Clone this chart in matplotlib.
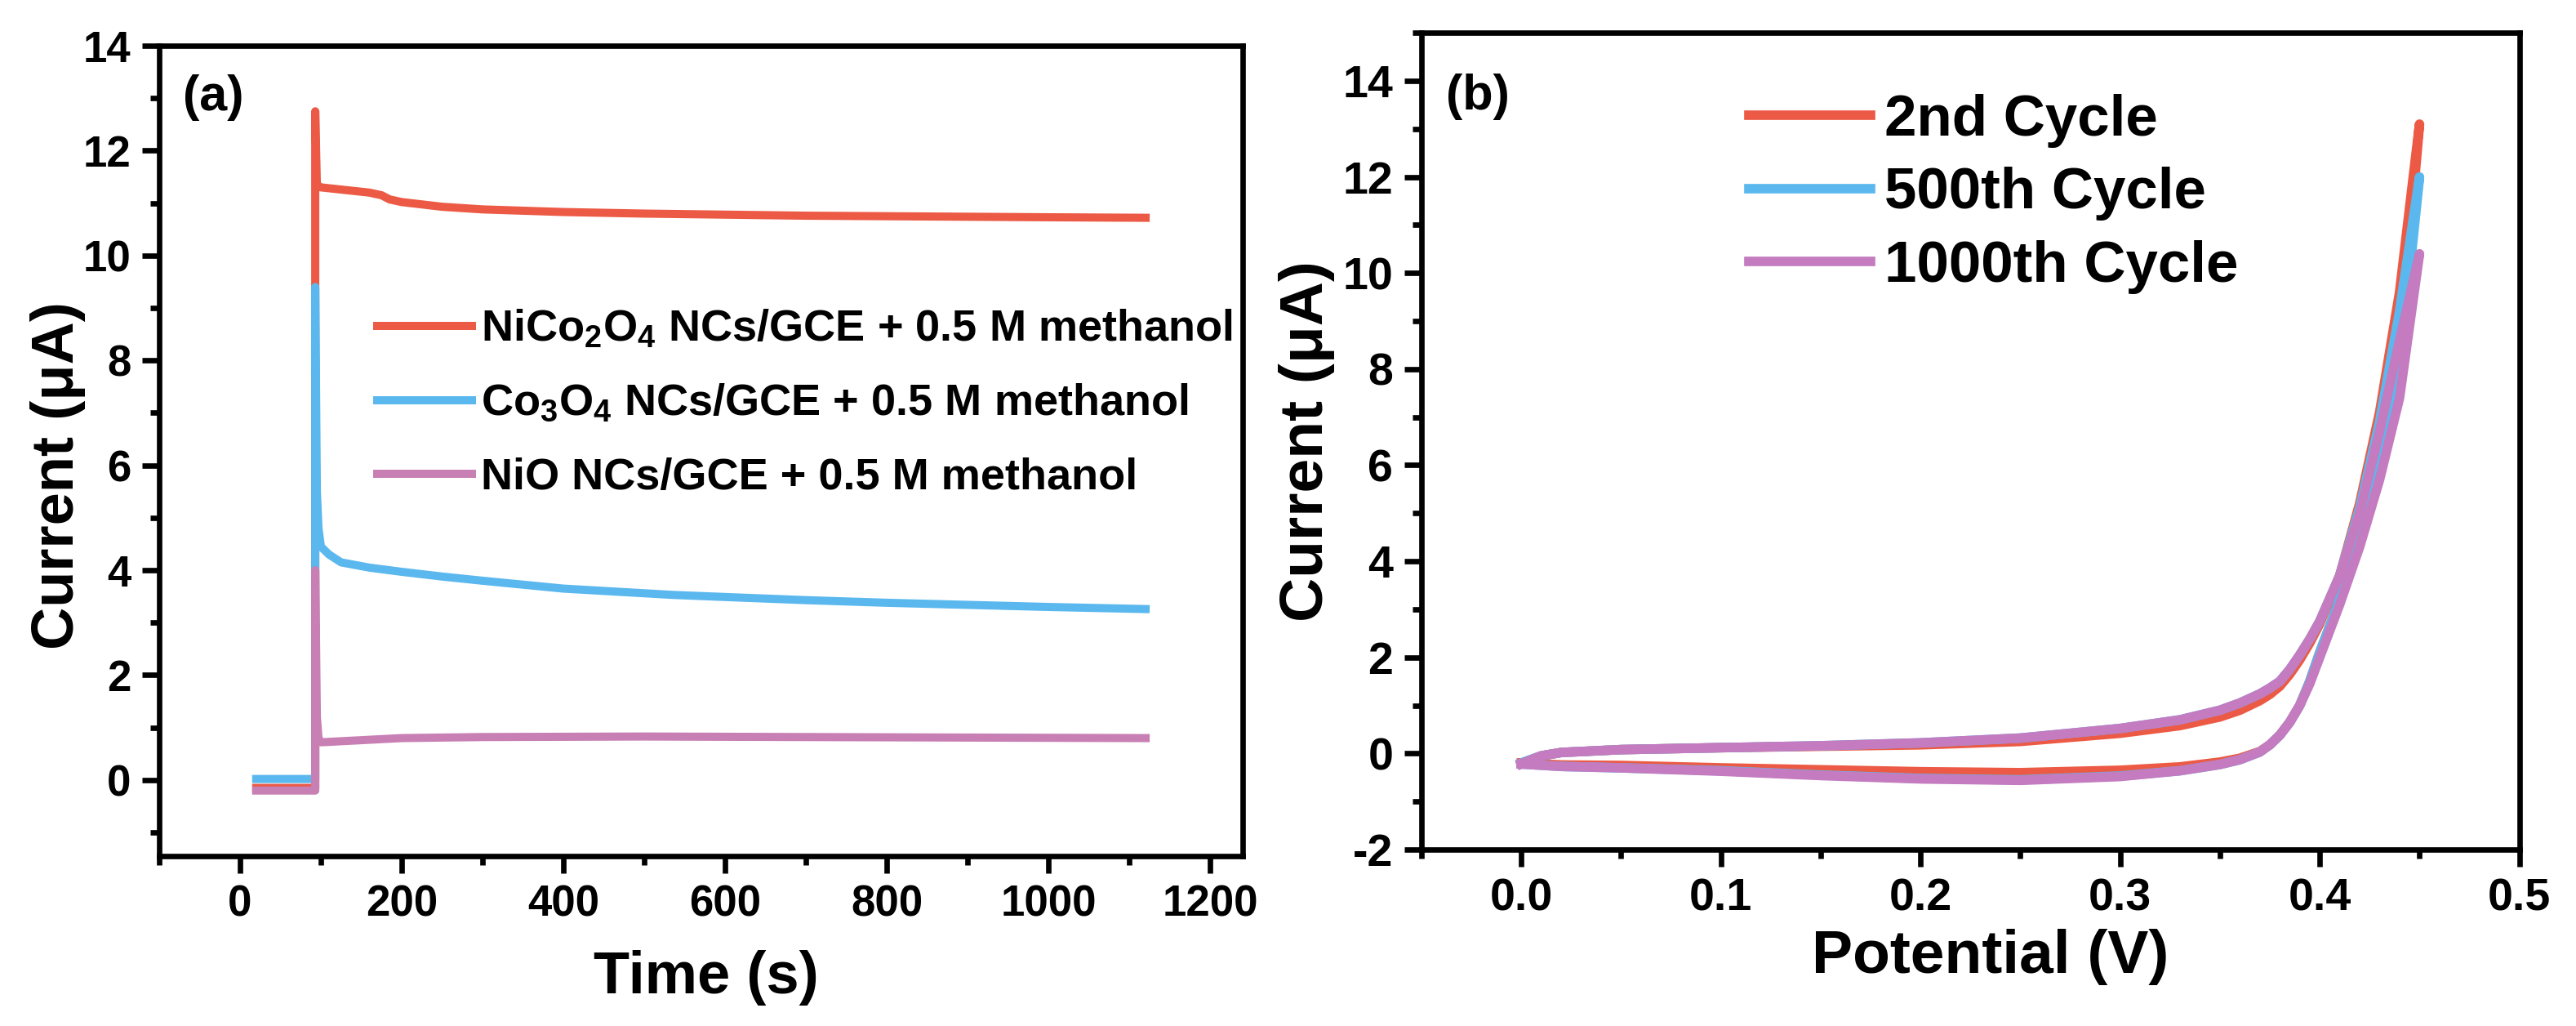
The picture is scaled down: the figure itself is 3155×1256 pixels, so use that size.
import matplotlib
matplotlib.use("Agg")
import matplotlib.pyplot as plt
from matplotlib.ticker import MultipleLocator

plt.rcParams["font.family"] = ["Liberation Sans", "DejaVu Sans"]
plt.rcParams["mathtext.fontset"] = "custom"
plt.rcParams["mathtext.rm"] = "Liberation Sans"
plt.rcParams["mathtext.bf"] = "Liberation Sans:bold"
plt.rcParams["axes.unicode_minus"] = False

RED = "#EC5A45"
BLUE = "#5BB8EE"
PINK = "#C880B4"
PURPLE = "#C47BC0"

# ---- panel (a): chronoamperometry ----
t_nico = [20, 93, 93, 95, 100, 130, 160, 175, 185, 200, 250, 300, 400, 500,
          600, 700, 800, 900, 1000, 1120]
i_nico = [-0.15, -0.15, 12.75, 11.35, 11.3, 11.25, 11.2, 11.15, 11.07, 11.02,
          10.93, 10.88, 10.83, 10.8, 10.78, 10.76, 10.75, 10.74, 10.73, 10.72]

t_co = [20, 93, 93, 95, 97, 100, 110, 125, 160, 200, 250, 300, 400, 535,
        600, 700, 800, 900, 1000, 1120]
i_co = [0.02, 0.02, 9.4, 5.5, 4.8, 4.45, 4.3, 4.15, 4.05, 3.97, 3.88, 3.8,
        3.65, 3.53, 3.49, 3.43, 3.38, 3.34, 3.3, 3.26]

t_nio = [20, 93, 93, 95, 97, 100, 150, 200, 300, 500, 700, 900, 1120]
i_nio = [-0.2, -0.2, 4.0, 1.2, 0.8, 0.72, 0.76, 0.8, 0.82, 0.83, 0.82, 0.81, 0.8]

labels_a = [r"NiCo$_\mathbf{2}$O$_\mathbf{4}$ NCs/GCE + 0.5 M methanol",
            r"Co$_\mathbf{3}$O$_\mathbf{4}$ NCs/GCE + 0.5 M methanol",
            "NiO NCs/GCE + 0.5 M methanol"]

# ---- panel (b): cyclic voltammetry, 1000 cycles ----
v_fwd = [0.0, 0.01, 0.02, 0.05, 0.10, 0.15, 0.20, 0.25, 0.30, 0.33, 0.35,
         0.36, 0.37, 0.375, 0.38, 0.385, 0.39, 0.395, 0.40, 0.41, 0.42, 0.43,
         0.44, 0.45]
v_rev = [0.44, 0.43, 0.42, 0.41, 0.40, 0.395, 0.39, 0.385, 0.38, 0.375, 0.37,
         0.36, 0.35, 0.33, 0.30, 0.25, 0.20, 0.15, 0.10, 0.05, 0.02, 0.0]

i_fwd_2 = [-0.2, -0.05, 0.02, 0.08, 0.12, 0.15, 0.18, 0.25, 0.42, 0.58, 0.76,
           0.9, 1.1, 1.23, 1.4, 1.65, 1.95, 2.3, 2.7, 3.7, 5.2, 7.1, 9.6, 13.1]
i_rev_2 = [8.3, 6.2, 4.6, 3.2, 2.1, 1.5, 1.0, 0.65, 0.38, 0.18, 0.04,
           -0.1, -0.18, -0.28, -0.35, -0.4, -0.38, -0.34, -0.3, -0.25, -0.24,
           -0.2]

i_fwd_500 = [-0.2, -0.05, 0.02, 0.08, 0.12, 0.16, 0.22, 0.32, 0.52, 0.7, 0.9,
             1.05, 1.24, 1.36, 1.5, 1.75, 2.05, 2.38, 2.75, 3.7, 5.1, 6.9, 9.2,
             12.0]
i_rev_500 = [8.0, 6.0, 4.5, 3.2, 2.1, 1.5, 1.0, 0.65, 0.38, 0.18, 0.03,
             -0.13, -0.23, -0.36, -0.47, -0.55, -0.52, -0.45, -0.36, -0.3,
             -0.27, -0.22]

i_fwd_1000 = [-0.22, -0.05, 0.02, 0.08, 0.12, 0.16, 0.22, 0.32, 0.52, 0.7, 0.9,
              1.05, 1.24, 1.36, 1.5, 1.75, 2.05, 2.38, 2.75, 3.7, 5.0, 6.7,
              8.6, 10.4]
i_rev_1000 = [7.4, 5.7, 4.3, 3.1, 2.0, 1.45, 1.0, 0.65, 0.38, 0.18, 0.03,
              -0.13, -0.23, -0.36, -0.48, -0.56, -0.53, -0.46, -0.37, -0.3,
              -0.27, -0.22]

labels_b = ["2nd Cycle", "500th Cycle", "1000th Cycle"]


def style_axes(ax, lw=2.4):
    for sp in ax.spines.values():
        sp.set_linewidth(lw)
    ax.tick_params(which="both", direction="out", top=False, right=False, width=lw)
    ax.tick_params(which="major", length=7.5, pad=5)
    ax.tick_params(which="minor", length=4)


fig = plt.figure(figsize=(15.775, 6.28), dpi=200)

# (a)
ax = fig.add_axes([0.0618, 0.1656, 0.4206, 0.7898])
lw_a = 3.6
ax.plot(t_nico, i_nico, color=RED, lw=lw_a, label=labels_a[0])
ax.plot(t_co, i_co, color=BLUE, lw=lw_a, label=labels_a[1])
ax.plot(t_nio, i_nio, color=PINK, lw=lw_a, label=labels_a[2])
ax.set_xlim(-100, 1240)
ax.set_ylim(-1.45, 14)
ax.xaxis.set_major_locator(MultipleLocator(200))
ax.xaxis.set_minor_locator(MultipleLocator(100))
ax.yaxis.set_major_locator(MultipleLocator(2))
ax.yaxis.set_minor_locator(MultipleLocator(1))
style_axes(ax)
ax.tick_params(labelsize=19)
for lab in ax.get_xticklabels() + ax.get_yticklabels():
    lab.set_fontweight("bold")
ax.set_xlabel("Time (s)", fontsize=26, fontweight="bold")
ax.set_ylabel("Current (\u03bcA)", fontsize=26, fontweight="bold")
ax.xaxis.set_label_coords(0.505, -0.116)
ax.yaxis.set_label_coords(-0.068, 0.47)
ax.text(0.022, 0.936, "(a)", transform=ax.transAxes, fontsize=22,
        fontweight="bold", va="center", ha="left")
ax.legend(loc="upper left", bbox_to_anchor=(462 / 3155, 1 - 377 / 1256),
          bbox_transform=fig.transFigure, frameon=False, borderpad=0,
          borderaxespad=0, handlelength=2.15, handletextpad=0.2,
          labelspacing=0.74, prop={"size": 19.5, "weight": "bold"})

# (b)
bx = fig.add_axes([0.5518, 0.172, 0.4262, 0.796])
lw_b = 4.2
cycles = [(i_fwd_2, i_rev_2, RED), (i_fwd_500, i_rev_500, BLUE),
          (i_fwd_1000, i_rev_1000, PURPLE)]
for (fw, rv, col), lab in zip(cycles, labels_b):
    bx.plot(v_fwd + v_rev, fw + rv, color=col, lw=lw_b, label=lab)
bx.set_xlim(-0.05, 0.5)
bx.set_ylim(-2, 15)
bx.xaxis.set_major_locator(MultipleLocator(0.1))
bx.xaxis.set_minor_locator(MultipleLocator(0.05))
bx.yaxis.set_major_locator(MultipleLocator(2))
bx.yaxis.set_minor_locator(MultipleLocator(1))
bx.set_xticks([0.0, 0.1, 0.2, 0.3, 0.4, 0.5])
bx.set_xticklabels(["0.0", "0.1", "0.2", "0.3", "0.4", "0.5"])
style_axes(bx)
bx.tick_params(labelsize=20)
for lab in bx.get_xticklabels() + bx.get_yticklabels():
    lab.set_fontweight("bold")
bx.set_xlabel("Potential (V)", fontsize=27, fontweight="bold")
bx.set_ylabel("Current (\u03bcA)", fontsize=27, fontweight="bold")
bx.xaxis.set_label_coords(0.518, -0.097)
bx.yaxis.set_label_coords(-0.079, 0.5)
bx.text(0.022, 0.922, "(b)", transform=bx.transAxes, fontsize=22,
        fontweight="bold", va="center", ha="left")
bx.legend(loc="upper left", bbox_to_anchor=(2142 / 3155, 1 - 115 / 1256),
          bbox_transform=fig.transFigure, frameon=False, borderpad=0,
          borderaxespad=0, handlelength=2.1, handletextpad=0.25,
          labelspacing=0.33, prop={"size": 25.5, "weight": "bold"})

fig.savefig("out.png", dpi=200)
